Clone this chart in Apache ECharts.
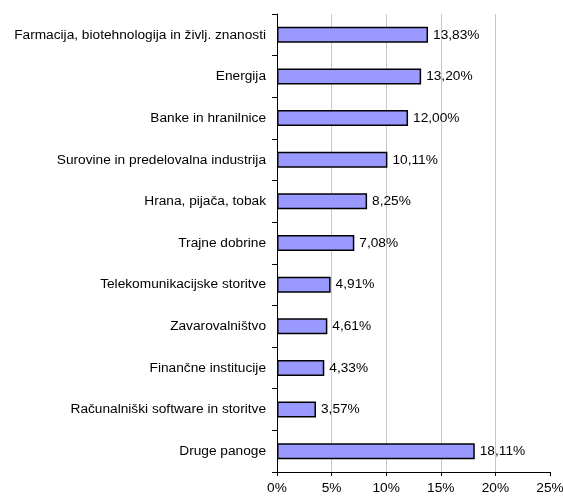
<!DOCTYPE html>
<html>
<head>
<meta charset="utf-8">
<script src="https://cdn.jsdelivr.net/npm/echarts@6/dist/echarts.min.js"></script>
<style>
  html, body { margin: 0; padding: 0; background: #fff; }
  #chart { width: 563px; height: 497px; }
</style>
</head>
<body>
<div id="chart"></div>
<script>
var categories = [
  'Farmacija, biotehnologija in življ. znanosti',
  'Energija',
  'Banke in hranilnice',
  'Surovine in predelovalna industrija',
  'Hrana, pijača, tobak',
  'Trajne dobrine',
  'Telekomunikacijske storitve',
  'Zavarovalništvo',
  'Finančne institucije',
  'Računalniški software in storitve',
  'Druge panoge'
]
var shares = [13.83, 13.20, 12.00, 10.11, 8.25, 7.08, 4.91, 4.61, 4.33, 3.57, 18.11]

var chart = echarts.init(document.getElementById('chart'))
chart.setOption({
  animation: false,
  textStyle: { fontFamily: 'Liberation Sans, Arial, sans-serif' },
  grid: {
    left: 277,
    right: 13,
    top: 14,
    bottom: 25,
    containLabel: false,
    outerBoundsMode: 'none'
  },
  xAxis: {
    type: 'value',
    min: 0,
    max: 25,
    interval: 5,
    axisLine: { show: true, lineStyle: { color: '#000', width: 1 } },
    axisTick: { show: true, length: 4, lineStyle: { color: '#000' } },
    axisLabel: {
      color: '#000',
      fontSize: 13.7,
      margin: 9,
      formatter: function(v) { return v + '%' }
    },
    splitLine: { show: true, showMaxLine: false, lineStyle: { color: '#c8c8c8', width: 1 } }
  },
  yAxis: {
    type: 'category',
    inverse: true,
    data: categories,
    axisLine: { show: true, lineStyle: { color: '#000', width: 1 } },
    axisTick: { show: true, length: 5, lineStyle: { color: '#000' } },
    axisLabel: { color: '#000', fontSize: 13.7, margin: 11 }
  },
  series: [{
    type: 'bar',
    data: shares,
    barWidth: 16,
    itemStyle: {
      color: '#9999ff',
      borderColor: '#000',
      borderWidth: 1.5
    },
    label: {
      show: true,
      position: 'right',
      distance: 5,
      color: '#000',
      fontSize: 13.7,
      formatter: function(p) { return p.value.toFixed(2).replace('.', ',') + '%' }
    }
  }]
})
</script>
</body>
</html>
